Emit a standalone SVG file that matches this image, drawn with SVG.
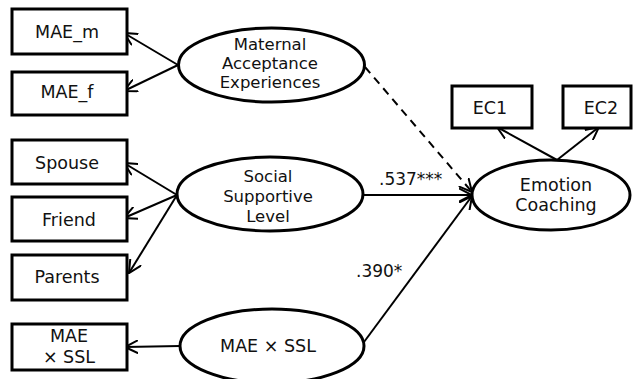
<svg xmlns="http://www.w3.org/2000/svg" width="633" height="379" viewBox="0 0 633 379">
<defs>
<marker id="ah" viewBox="0 0 14 14" refX="13" refY="7" markerWidth="14" markerHeight="14" markerUnits="userSpaceOnUse" orient="auto">
<path d="M0,0.5 L13,7 L0,13.5" fill="none" stroke="#000" stroke-width="2"/>
</marker>
<style>
.box{fill:#fff;stroke:#000;stroke-width:3}
.ell{fill:#fff;stroke:#000;stroke-width:3}
.t{font-family:"DejaVu Sans","Liberation Sans",sans-serif;font-size:17.5px;fill:#111;text-anchor:middle}
.te{font-family:"DejaVu Sans","Liberation Sans",sans-serif;font-size:16.5px;fill:#111;text-anchor:middle}
.c{stroke:#000;stroke-width:2;fill:none;marker-end:url(#ah)}
.d{stroke-dasharray:8,6}
.lab{font-family:"DejaVu Sans","Liberation Sans",sans-serif;font-size:17px;fill:#111}
</style>
</defs>
<rect width="633" height="379" fill="#fff"/>
<g id="connectors">
<line class="c" x1="178" y1="65" x2="124" y2="33"/>
<line class="c" x1="178" y1="65" x2="124" y2="91"/>
<line class="c" x1="177" y1="195" x2="124" y2="163"/>
<line class="c" x1="177" y1="195" x2="124" y2="218"/>
<line class="c" x1="177" y1="195" x2="129" y2="273"/>
<line class="c" x1="180" y1="346" x2="125" y2="347"/>
<line class="c d" x1="365" y1="67" x2="472" y2="192"/>
<line class="c" x1="363" y1="195" x2="472" y2="195"/>
<line class="c" x1="364" y1="342" x2="472" y2="196"/>
<line class="c" x1="557" y1="160" x2="497" y2="127"/>
<line class="c" x1="557" y1="160" x2="599" y2="127"/>
<text class="lab" x="379" y="185">.537***</text>
<text class="lab" x="356" y="277">.390*</text>
</g>
<g id="MAE_m"><rect class="box" x="12" y="9" width="115" height="45"/><text class="t" x="67" y="38">MAE_m</text></g>
<g id="MAE_f"><rect class="box" x="12" y="72" width="115" height="43"/><text class="t" x="67" y="98">MAE_f</text></g>
<g id="Spouse"><rect class="box" x="12" y="140" width="115" height="44"/><text class="t" x="67" y="169">Spouse</text></g>
<g id="Friend"><rect class="box" x="12" y="197" width="115" height="44"/><text class="t" x="69" y="226">Friend</text></g>
<g id="Parents"><rect class="box" x="12" y="255" width="115" height="45"/><text class="t" x="67" y="283">Parents</text></g>
<g id="MAExSSL_box"><rect class="box" x="12" y="324" width="115" height="46"/><text class="t" x="69" y="342">MAE</text><text class="t" x="69" y="363">× SSL</text></g>
<g id="Maternal"><ellipse class="ell" cx="271.500" cy="65" rx="93" ry="37"/><text class="te" x="270" y="50">Maternal</text><text class="te" x="270" y="69">Acceptance</text><text class="te" x="270" y="88">Experiences</text></g>
<g id="Social"><ellipse class="ell" cx="270" cy="194" rx="93" ry="37"/><text class="te" x="268" y="182">Social</text><text class="te" x="268" y="202">Supportive</text><text class="te" x="268" y="222">Level</text></g>
<g id="MAExSSL"><ellipse class="ell" cx="272" cy="346" rx="92" ry="37"/><text class="t" x="268" y="352">MAE × SSL</text></g>
<g id="EmotionCoaching"><ellipse class="ell" cx="551" cy="195" rx="79" ry="35"/><text class="t" x="556" y="191">Emotion</text><text class="t" x="556" y="211">Coaching</text></g>
<g id="EC1"><rect class="box" x="452" y="86" width="80" height="42"/><text class="t" x="490" y="114">EC1</text></g>
<g id="EC2"><rect class="box" x="563" y="86" width="68" height="42"/><text class="t" x="601" y="114">EC2</text></g>
</svg>
